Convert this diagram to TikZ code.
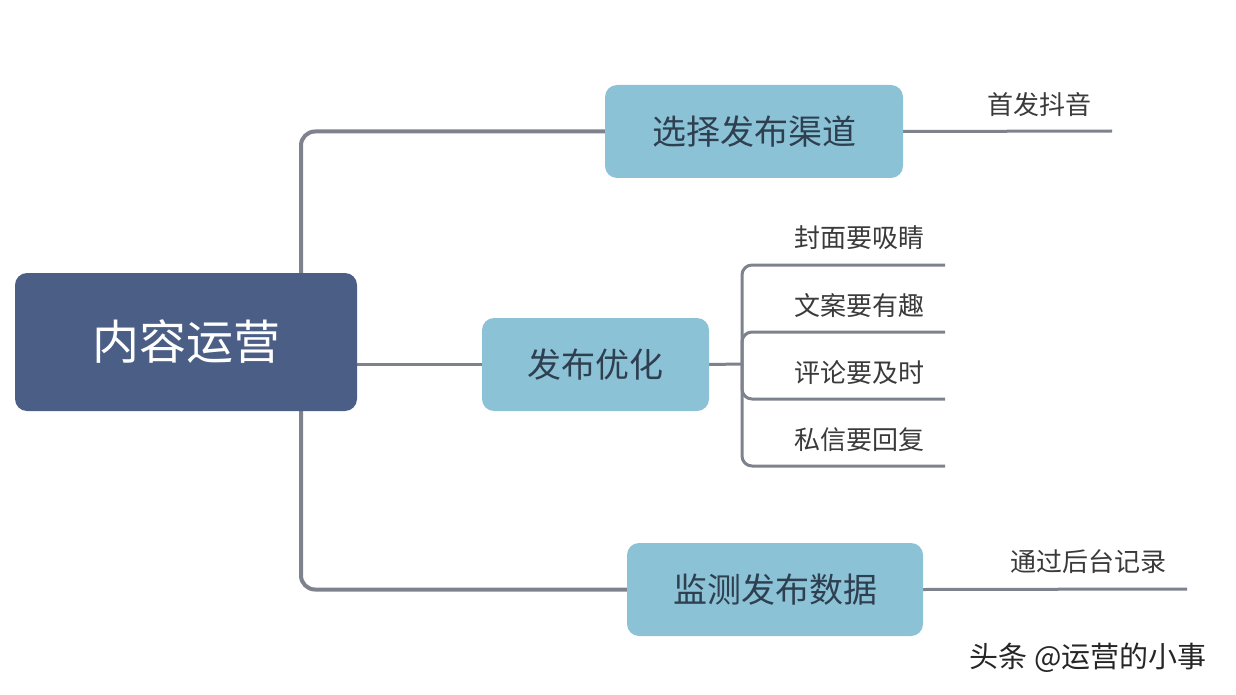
\documentclass[tikz,border=0pt]{standalone}
\usepackage{fontspec}
\setmainfont{Noto Sans CJK SC}
\usetikzlibrary{backgrounds}
\definecolor{rootblue}{HTML}{4B5F86}
\definecolor{topicblue}{HTML}{8CC2D6}
\definecolor{topictext}{HTML}{2E3F50}
\definecolor{linkgray}{HTML}{7E828C}
\definecolor{leaftext}{HTML}{3A3A3A}

\begin{document}
\begin{tikzpicture}[x=1pt, y=-1pt,
    rootbox/.style={
      fill=rootblue, text=white, rounded corners=12pt,
      minimum width=342pt, minimum height=138pt,
      font=\fontsize{47}{50}\selectfont
    },
    topic/.style={
      fill=topicblue, text=topictext, rounded corners=12pt,
      minimum height=93pt, font=\fontsize{34}{38}\selectfont
    },
    leaf/.style={text=leaftext, inner sep=0pt, font=\fontsize{26}{30}\selectfont},
    link/.style={draw=linkgray, line width=3pt},
  ]
    \useasboundingbox (0,0) rectangle (1236,695);

    % centre and main topics
    \node[rootbox] (root) at (186,342) {内容运营};
    \node[topic, minimum width=298pt] (channel) at (754,131.5) {选择发布渠道};
    \node[topic, minimum width=227pt] (optimize) at (595.5,364.5) {发布优化};
    \node[topic, minimum width=296pt] (monitor) at (775,589.5) {监测发布数据};

    % leaves
    \node[leaf] (douyin) at (1039,105) {首发抖音};
    \node[leaf] (cover) at (859,238) {封面要吸睛};
    \node[leaf] (copy) at (859,306) {文案要有趣};
    \node[leaf] (reply) at (859,373) {评论要及时};
    \node[leaf] (message) at (859,440) {私信要回复};
    \node[leaf] (backend) at (1088,562) {通过后台记录};

    \node[font=\fontsize{29}{32}\selectfont, text=black!85] (mark) at (1088,658) {头条 @运营的小事};

    \coordinate (spine) at (301,364);
    \coordinate (fork) at (742,364);
    \coordinate (douyin-end) at (1112,131);
    \coordinate (backend-end) at (1187,589);

    \begin{pgfonlayer}{background}
      \draw[link, line width=4pt, rounded corners=14pt]
        (channel.west) -| (spine) |- (monitor.west);
      \draw[link] (root.east |- optimize.west) -- (optimize.west);
      \draw[link] (channel.east) -- (douyin-end);
      \draw[link] (monitor.east) -- (backend-end);
      \draw[link] (optimize.east) -- (fork);
      \foreach \y in {265,332,399,466}
        \draw[link, rounded corners=10pt] (fork) |- (945,\y);
    \end{pgfonlayer}
  \end{tikzpicture}
\end{document}
